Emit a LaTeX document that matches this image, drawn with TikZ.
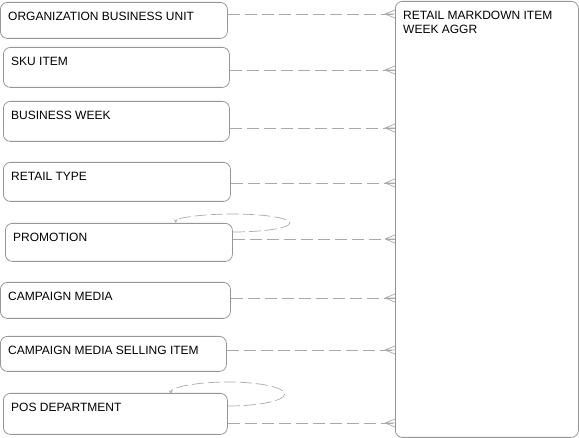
\documentclass[tikz,border=0pt]{standalone}
\usepackage{fontspec}
\setmainfont{Liberation Sans}
\definecolor{boxgray}{RGB}{150,150,150}
\definecolor{linegray}{RGB}{170,170,170}
\tikzset{
  crow/.pic = {\draw[linegray, line width=0.7pt, solid] (-10,0) -- (0,-4) (-10,0) -- (0,0) (-10,0) -- (0,4);}
}
\begin{document}
\begin{tikzpicture}[
    x = 1pt, y = -1pt,
    ent/.style = {draw=boxgray, line width=0.8pt, rounded corners=7pt, anchor=north west, inner sep=0pt},
    lbl/.style = {anchor=north west, inner xsep=8pt, inner ysep=10pt, font=\fontsize{12}{13.5}\selectfont},
    rel/.style = {draw=linegray, line width=0.8pt, dash pattern=on 12pt off 5pt},
    self/.style = {draw=linegray, line width=0.7pt, dash pattern=on 12pt off 4pt, -stealth}
                    ]
\useasboundingbox (0,0) rectangle (579,438);

\node[ent, minimum width=227pt, minimum height=36pt, label={[lbl]north west:ORGANIZATION BUSINESS UNIT}] (org) at (0,2) {};
\node[ent, minimum width=226pt, minimum height=40pt, label={[lbl]north west:SKU ITEM}] (sku) at (3,47) {};
\node[ent, minimum width=226pt, minimum height=40pt, label={[lbl]north west:BUSINESS WEEK}] (bweek) at (3,101) {};
\node[ent, minimum width=227pt, minimum height=39pt, label={[lbl]north west:RETAIL TYPE}] (rtype) at (3,162) {};
\node[ent, minimum width=227pt, minimum height=38pt, label={[lbl]north west:PROMOTION}] (promo) at (5,223) {};
\node[ent, minimum width=230pt, minimum height=36pt, label={[lbl]north west:CAMPAIGN MEDIA}] (cmedia) at (0,282) {};
\node[ent, minimum width=226pt, minimum height=35pt, label={[lbl]north west:CAMPAIGN MEDIA SELLING ITEM}] (cmsi) at (0,336) {};
\node[ent, minimum width=224pt, minimum height=41pt, label={[lbl]north west:POS DEPARTMENT}] (posdep) at (3,393) {};
\node[ent, minimum width=183pt, minimum height=436pt, label={[lbl, align=left]north west:RETAIL MARKDOWN ITEM\\WEEK AGGR}] (aggr) at (395,1) {};

% relations to the aggregate
\draw[rel] (org.east |- 0,14) -- (aggr.west |- 0,14);
\draw[rel] (sku.east |- 0,70) -- (aggr.west |- 0,70);
\draw[rel] (bweek.east |- 0,128) -- (aggr.west |- 0,128);
\draw[rel] (rtype.east |- 0,183) -- (aggr.west |- 0,183);
\draw[rel] (promo.east |- 0,239) -- (aggr.west |- 0,239);
\draw[rel] (cmedia.east |- 0,298) -- (aggr.west |- 0,298);
\draw[rel] (cmsi.east |- 0,350) -- (aggr.west |- 0,350);
\draw[rel] (posdep.east |- 0,423) -- (aggr.west |- 0,423);

\pic at (aggr.west |- 0,14) {crow};
\pic at (aggr.west |- 0,70) {crow};
\pic at (aggr.west |- 0,128) {crow};
\pic at (aggr.west |- 0,183) {crow};
\pic at (aggr.west |- 0,239) {crow};
\pic at (aggr.west |- 0,298) {crow};
\pic at (aggr.west |- 0,350) {crow};
\pic at (aggr.west |- 0,423) {crow};

% recursive relations
\draw[self] (promo.east |- 0,232) arc[start angle=90, end angle=-180, x radius=57, y radius=9];
\draw[self] (posdep.east |- 0,406) arc[start angle=90, end angle=-180, x radius=57, y radius=12];

\end{tikzpicture}
\end{document}
